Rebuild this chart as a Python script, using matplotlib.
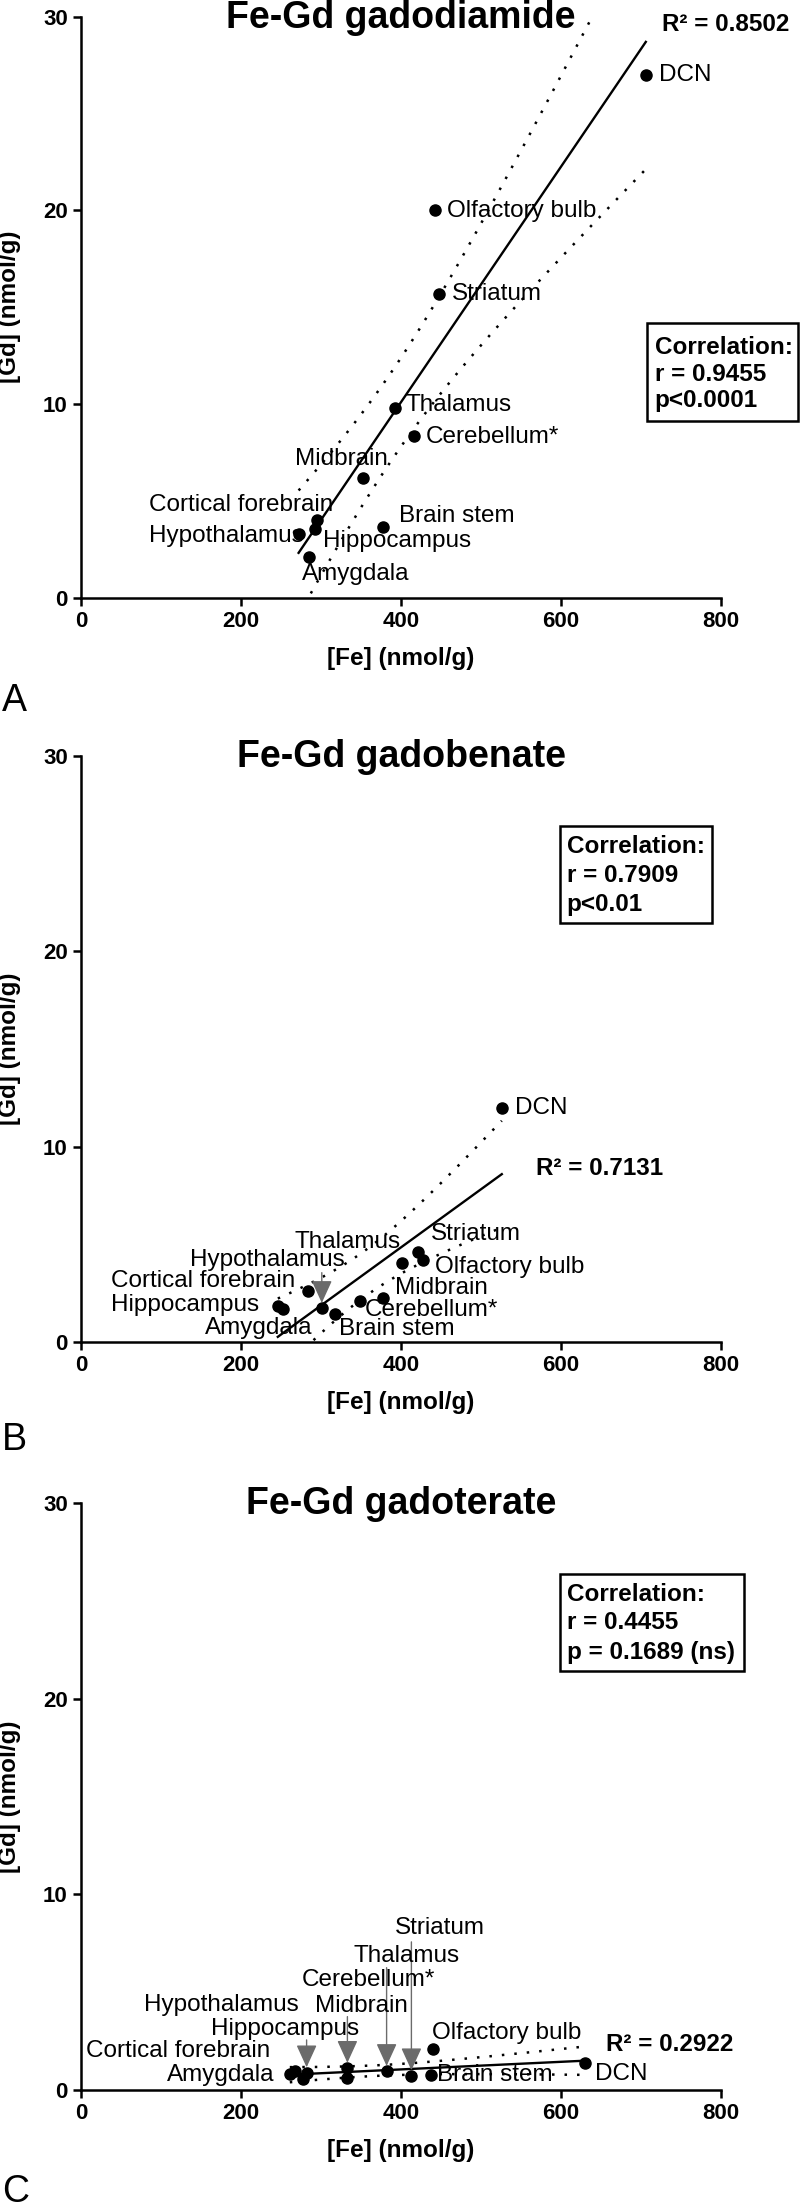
import numpy as np
import matplotlib
matplotlib.use("Agg")
import matplotlib.pyplot as plt
from matplotlib.patches import Rectangle

plt.rcParams['font.family'] = ['Liberation Sans', 'DejaVu Sans']

# ---- panel A : gadodiamide ----
names_a = ["DCN", "Olfactory bulb", "Striatum", "Thalamus", "Cerebellum*", "Midbrain",
           "Cortical forebrain", "Hippocampus", "Hypothalamus", "Brain stem", "Amygdala"]
fe_a = [706, 442, 447, 392, 416, 353, 295, 293, 272, 377, 285]
gd_a = [27.0, 20.0, 15.7, 9.8, 8.35, 6.2, 4.0, 3.55, 3.3, 3.63, 2.12]
stats_a = ["Correlation:", "r = 0.9455", "p<0.0001"]
r2_a = "R² = 0.8502"

# ---- panel B : gadobenate ----
names_b = ["DCN", "Striatum", "Olfactory bulb", "Thalamus", "Midbrain", "Cerebellum*",
           "Cortical forebrain", "Hypothalamus", "Brain stem", "Hippocampus", "Amygdala"]
fe_b = [526, 421, 428, 401, 377, 349, 284, 301, 318, 246, 252]
gd_b = [11.98, 4.62, 4.2, 4.06, 2.24, 2.1, 2.61, 1.72, 1.43, 1.85, 1.7]
stats_b = ["Correlation:", "r = 0.7909", "p<0.01"]
r2_b = "R² = 0.7131"

# ---- panel C : gadoterate ----
names_c = ["DCN", "Olfactory bulb", "Brain stem", "Striatum", "Thalamus", "Cerebellum*",
           "Midbrain", "Hippocampus", "Hypothalamus", "Cortical forebrain", "Amygdala"]
fe_c = [630, 440, 437, 413, 382, 333, 333, 282, 277, 267, 261]
gd_c = [1.40, 2.08, 0.77, 0.73, 0.95, 0.61, 1.11, 0.88, 0.55, 0.98, 0.84]
stats_c = ["Correlation:", "r = 0.4455", "p = 0.1689 (ns)"]
r2_c = "R² = 0.2922"

titles = ["Fe-Gd gadodiamide", "Fe-Gd gadobenate", "Fe-Gd gadoterate"]
letters = ["A", "B", "C"]
x_ticks = [0, 200, 400, 600, 800]
y_ticks = [0, 10, 20, 30]

# label placement (left edge x, centre y, in data units)
labels_a = {"DCN": (722, 27.0), "Olfactory bulb": (458, 19.95), "Striatum": (464, 15.7),
            "Thalamus": (405, 9.95), "Cerebellum*": (431, 8.3), "Midbrain": (268, 7.15),
            "Cortical forebrain": (85, 4.8), "Brain stem": (397, 4.2), "Hypothalamus": (85, 3.2),
            "Hippocampus": (302, 2.95), "Amygdala": (276, 1.2)}
labels_b = {"DCN": (543, 11.98), "Striatum": (438, 5.53), "Thalamus": (267, 5.1),
            "Hypothalamus": (136, 4.2), "Olfactory bulb": (442, 3.86), "Cortical forebrain": (38, 3.14),
            "Midbrain": (392, 2.75), "Hippocampus": (38, 1.89), "Cerebellum*": (355, 1.62),
            "Amygdala": (155, 0.72), "Brain stem": (322, 0.64)}
labels_c = {"Striatum": (392, 8.3), "Thalamus": (340, 6.83), "Cerebellum*": (276, 5.6),
            "Hypothalamus": (79, 4.35), "Midbrain": (292, 4.27), "Hippocampus": (162, 3.14),
            "Olfactory bulb": (439, 2.9), "Cortical forebrain": (6, 1.98), "Amygdala": (108, 0.77),
            "Brain stem": (445, 0.77), "DCN": (642, 0.84)}
# arrows from below a label (start y) down to its point
arrows_b = {"Hypothalamus": 3.55}
arrows_c = {"Hippocampus": 2.56, "Midbrain": 3.75, "Thalamus": 6.25, "Striatum": 7.57}

r2_pos = [(726, 29.6), (569, 8.9), (656, 2.3)]
box_pos = [(707, 9.13, 189, 5.03), (599, 21.46, 190, 4.94), (599, 21.42, 230, 4.94)]
box_lines = [(717, [12.93, 11.54, 10.2]), (607, [25.35, 23.9, 22.4]), (607, [25.3, 23.9, 22.35])]

T_CRIT = 2.262  # t(0.975, df = 9)


def fit_band(fe, gd):
    x = np.asarray(fe, float)
    y = np.asarray(gd, float)
    n = len(x)
    slope, icpt = np.polyfit(x, y, 1)
    xs = np.linspace(x.min(), x.max(), 200)
    yhat = icpt + slope * xs
    s = np.sqrt(np.sum((y - (icpt + slope * x)) ** 2) / (n - 2))
    sxx = np.sum((x - x.mean()) ** 2)
    half = T_CRIT * s * np.sqrt(1 / n + (xs - x.mean()) ** 2 / sxx)
    return xs, yhat, yhat - half, yhat + half


fig = plt.figure(figsize=(8, 22.09), dpi=100)
H = 2209.0
# axes: left px 81, right px 721; (top px, bottom px) for each panel
rows = [(16.7, 597.7), (756, 1342), (1503, 2090)]
letter_y = [701, 1440, 2192]

panels = [(names_a, fe_a, gd_a, labels_a, {}, stats_a, r2_a),
          (names_b, fe_b, gd_b, labels_b, arrows_b, stats_b, r2_b),
          (names_c, fe_c, gd_c, labels_c, arrows_c, stats_c, r2_c)]

for i, (names, fe, gd, labs, arrs, stats, r2) in enumerate(panels):
    top, bot = rows[i]
    hpx = bot - top
    ax = fig.add_axes([81 / 800, (H - bot) / H, 640 / 800, hpx / H])
    ax.set_xlim(0, 800)
    ax.set_ylim(0, 30)
    for sp in ["top", "right"]:
        ax.spines[sp].set_visible(False)
    for sp in ["left", "bottom"]:
        ax.spines[sp].set_linewidth(1.8)
    ax.set_xticks(x_ticks)
    ax.set_yticks(y_ticks)
    ax.set_xticklabels([str(t) for t in x_ticks], fontweight="bold")
    ax.set_yticklabels([str(t) for t in y_ticks], fontweight="bold")
    ax.tick_params(direction="out", length=5.5, width=1.8, labelsize=16, pad=4)

    xs, yhat, lo, hi = fit_band(fe, gd)
    ax.plot(xs, yhat, color="black", lw=1.7, zorder=2)
    ax.plot(xs, lo, color="black", lw=1.8, ls=(0, (1, 4)), zorder=2)
    ax.plot(xs, hi, color="black", lw=1.8, ls=(0, (1, 4)), zorder=2)
    ax.scatter(fe, gd, s=64, color="black", zorder=3, clip_on=False)

    for k, nm in enumerate(names):
        tx, ty = labs[nm]
        ax.text(tx, ty, nm, fontsize=17.5, ha="left", va="center", zorder=4)
        if nm in arrs:
            ax.annotate("", xy=(fe[k], gd[k] + 0.28), xytext=(fe[k], arrs[nm]),
                        arrowprops=dict(arrowstyle="-|>,head_length=0.7,head_width=0.32",
                                        color="#6b6b6b", lw=1.0, mutation_scale=20,
                                        shrinkA=0, shrinkB=0), zorder=4)

    ax.text(400, 29.95, titles[i], fontsize=27, fontweight="bold", ha="center", va="center")
    ax.text(r2_pos[i][0], r2_pos[i][1], r2, fontsize=17.5, fontweight="bold",
            ha="left", va="center")

    bx, by, bw, bh = box_pos[i]
    ax.add_patch(Rectangle((bx, by), bw, bh, fill=False, edgecolor="black", lw=1.8, clip_on=False))
    lx, lys = box_lines[i]
    for line, ly in zip(stats, lys):
        ax.text(lx, ly, line, fontsize=17.5, fontweight="bold", ha="left", va="center")

    ax.text(0.5, -61 / hpx, "[Fe] (nmol/g)", transform=ax.transAxes, fontsize=17.5,
            fontweight="bold", ha="center", va="center")
    ax.text(-71 / 640, 0.5, "[Gd] (nmol/g)", transform=ax.transAxes, fontsize=17.5,
            fontweight="bold", ha="center", va="center", rotation=90)

    fig.text(2 / 800, 1 - letter_y[i] / H, letters[i], fontsize=27, ha="left", va="center")

fig.savefig("out.png", dpi=100)
